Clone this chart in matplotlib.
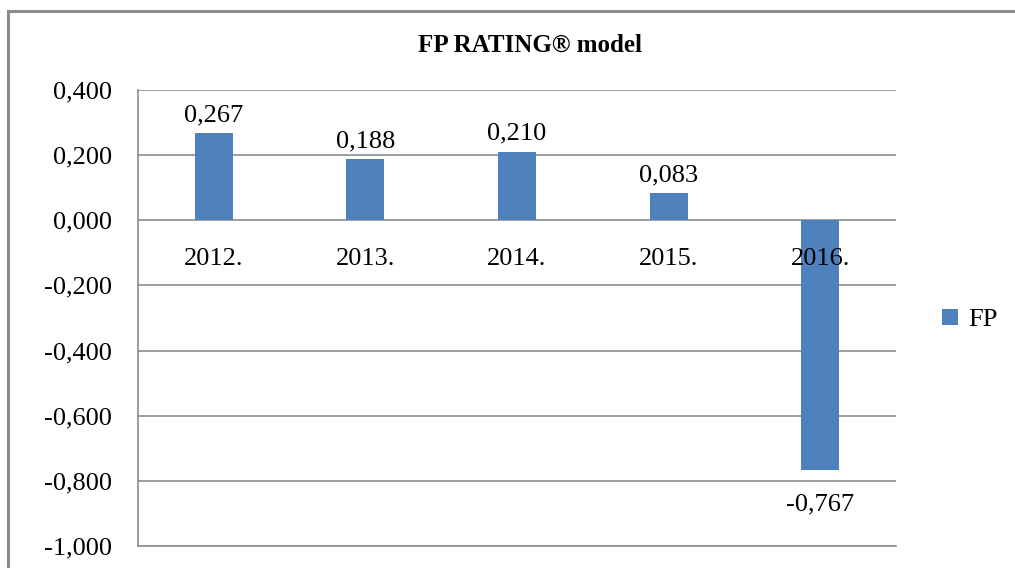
import matplotlib
matplotlib.use("Agg")
import matplotlib.pyplot as plt
from matplotlib.patches import Rectangle
from matplotlib.ticker import FuncFormatter
import matplotlib.transforms as mtransforms

years = ["2012.", "2013.", "2014.", "2015.", "2016."]
fp_values = [0.267, 0.188, 0.210, 0.083, -0.767]
series_name = "FP"
title = "FP RATING\u00ae model"
y_ticks = [-1.0, -0.8, -0.6, -0.4, -0.2, 0.0, 0.2, 0.4]

W, H = 1015, 568
fig = plt.figure(figsize=(W / 100, H / 100), dpi=100)
plt.rcParams['font.family'] = ['Liberation Serif', 'DejaVu Serif']

def fmt(v):
    return f"{v:.3f}".replace('.', ',')

# outer chart border
fig.patches.append(Rectangle((8 / W, 1 - 600 / H), 1100 / W, (600 - 11) / H,
                             transform=fig.transFigure, fill=False,
                             edgecolor='#8c8c8c', linewidth=2.2, zorder=0))

ax = fig.add_axes([138 / W, 1 - 546 / H, (896 - 138) / W, (546 - 90) / H])
blue = '#4F81BD'
x = list(range(len(years)))
bars = ax.bar(x, fp_values, width=0.25, color=blue, label=series_name, zorder=3)
ax.set_xlim(-0.5, len(years) - 0.5)
ax.set_ylim(-1.0, 0.4)
ax.set_yticks(y_ticks)
ax.yaxis.set_major_formatter(FuncFormatter(lambda v, p: fmt(v)))
ax.tick_params(axis='y', length=0, labelsize=19, pad=18.5)
ax.set_xticks([])
ax.grid(axis='y', color='#8c8c8c', linewidth=1.2, zorder=1)
for s in ['top', 'right']:
    ax.spines[s].set_visible(False)
for s in ['left', 'bottom']:
    ax.spines[s].set_color('#8c8c8c')
    ax.spines[s].set_linewidth(1.2)

ax.bar_label(bars, labels=[fmt(v) if v >= 0 else "" for v in fp_values],
             padding=5, fontsize=19)
ax.bar_label(bars, labels=[fmt(v) if v < 0 else "" for v in fp_values],
             padding=17, fontsize=19)

# category labels beneath zero line
off = mtransforms.offset_copy(ax.transData, fig=fig, x=0, y=-39 * 0.72, units='points')
for xi, lab in zip(x, years):
    ax.text(xi, 0, lab, transform=off, ha='center', va='center', fontsize=19)

fig.text(530 / W, 1 - 45 / H, title, ha='center', va='center',
         fontsize=18, fontweight='bold')

leg = fig.legend(handles=[bars], labels=[series_name], loc='center left',
                 bbox_to_anchor=(918 / W, 1 - 320 / H), frameon=False,
                 fontsize=19, handlelength=0.6, handleheight=0.6, handletextpad=0.4)

fig.savefig("out.png", dpi=100)
